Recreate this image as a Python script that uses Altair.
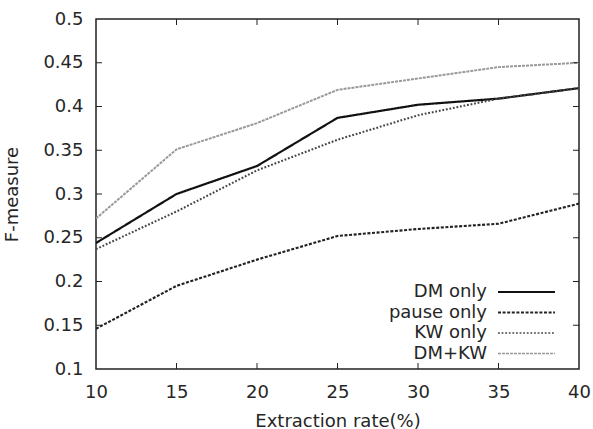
import altair as alt
import pandas as pd

# ---- data ----
x_rates = [10, 15, 20, 25, 30, 35, 40]
series_names = ["DM only", "pause only", "KW only", "DM+KW"]
dm_only = [0.244, 0.300, 0.332, 0.387, 0.402, 0.409, 0.421]
pause_only = [0.146, 0.195, 0.225, 0.252, 0.260, 0.266, 0.289]
kw_only = [0.237, 0.280, 0.327, 0.362, 0.390, 0.409, 0.421]
dm_kw = [0.272, 0.351, 0.381, 0.419, 0.432, 0.445, 0.450]
x_ticks = [10, 15, 20, 25, 30, 35, 40]
y_ticks = [0.1, 0.15, 0.2, 0.25, 0.3, 0.35, 0.4, 0.45, 0.5]

# ---- styles ----
FONT = "DejaVu Sans"
TXT = "#262626"
W, H = 483, 350
colors = ["#111111", "#222222", "#444444", "#999999"]
dashes = [[1, 0], [3, 1.6], [1.8, 1.8], [3, 1]]
widths = [2.2, 2.0, 1.6, 1.6]

values = [dm_only, pause_only, kw_only, dm_kw]
rows = []
for name, vals in zip(series_names, values):
    for xr, v in zip(x_rates, vals):
        rows.append({"rate": xr, "f": v, "series": name})
df = pd.DataFrame(rows)

xscale = alt.Scale(domain=[10, 40], nice=False, zero=False)
yscale = alt.Scale(domain=[0.1, 0.5], nice=False, zero=False)

lines = alt.Chart(df).mark_line(clip=True).encode(
    x=alt.X("rate:Q", scale=xscale, title="Extraction rate(%)",
            axis=alt.Axis(values=x_ticks, ticks=False, grid=False, domain=False,
                          labelPadding=14, titlePadding=11, labelFlush=False)),
    y=alt.Y("f:Q", scale=yscale, title="F-measure",
            axis=alt.Axis(values=y_ticks, ticks=False, grid=False, domain=False,
                          format="~g", labelPadding=13, titlePadding=21)),
    color=alt.Color("series:N", scale=alt.Scale(domain=series_names, range=colors), legend=None),
    strokeDash=alt.StrokeDash("series:N", scale=alt.Scale(domain=series_names, range=dashes), legend=None),
    strokeWidth=alt.StrokeWidth("series:N", scale=alt.Scale(domain=series_names, range=widths), legend=None),
)

# inward ticks on all four sides (gnuplot style)
xt = pd.DataFrame({"rate": x_ticks[1:-1]})
yt = pd.DataFrame({"f": y_ticks[1:-1]})
tick_color = "#222222"
ticks = [
    alt.Chart(xt).mark_rule(color=tick_color, strokeWidth=1).encode(
        x=alt.X("rate:Q", scale=xscale), y=alt.value(H), y2=alt.value(H - 6)),
    alt.Chart(xt).mark_rule(color=tick_color, strokeWidth=1).encode(
        x=alt.X("rate:Q", scale=xscale), y=alt.value(0), y2=alt.value(6)),
    alt.Chart(yt).mark_rule(color=tick_color, strokeWidth=1).encode(
        y=alt.Y("f:Q", scale=yscale), x=alt.value(0), x2=alt.value(6)),
    alt.Chart(yt).mark_rule(color=tick_color, strokeWidth=1).encode(
        y=alt.Y("f:Q", scale=yscale), x=alt.value(W), x2=alt.value(W - 6)),
]

# custom legend: labels right-aligned, sample lines to the right
legend_layers = []
leg_df = pd.DataFrame({"series": series_names})
for i, name in enumerate(series_names):
    ypos = 273 + i * 20.5
    one = leg_df[leg_df["series"] == name]
    legend_layers.append(
        alt.Chart(one).mark_text(align="right", baseline="middle", font=FONT,
                                 fontSize=18, color=TXT).encode(
            text="series:N", x=alt.value(391), y=alt.value(ypos)))
    legend_layers.append(
        alt.Chart(one).mark_rule(color=colors[i], strokeDash=dashes[i],
                                 strokeWidth=widths[i]).encode(
            x=alt.value(402), x2=alt.value(459), y=alt.value(ypos)))

chart = alt.layer(lines, *ticks, *legend_layers).properties(
    width=W, height=H,
    autosize=alt.AutoSizeParams(type="none"),
    padding={"left": 96, "top": 19, "right": 14, "bottom": 60},
).configure(background="white").configure_view(
    stroke="#222222", strokeWidth=1.5
).configure_axis(
    labelFont=FONT, titleFont=FONT, labelFontSize=18, titleFontSize=18,
    labelColor=TXT, titleColor=TXT, titleFontWeight="normal",
)

chart.save("out.html", embed_options={"renderer": "svg", "actions": False})
